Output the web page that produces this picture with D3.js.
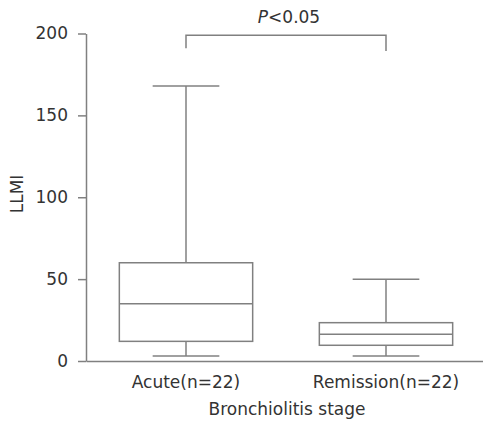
<!DOCTYPE html>
<html>
<head>
<meta charset="utf-8">
<script src="https://cdn.jsdelivr.net/npm/d3@7"></script>
<style>
  body { margin: 0; background: #fff; }
  text { font-family: "DejaVu Sans", sans-serif; fill: #333; }
</style>
</head>
<body>
<div id="chart"></div>
<script>
// box plot data
var categories = ["Acute(n=22)", "Remission(n=22)"];
var mins = [3, 3];
var q1s = [12, 9.6];
var medians = [35, 16.3];
var q3s = [60, 23.4];
var maxs = [168, 50];
var yTicks = [0, 50, 100, 150, 200];

var data = categories.map(function(c, i) {
    return { name: c, min: mins[i], q1: q1s[i], median: medians[i], q3: q3s[i], max: maxs[i] };
});

var W = 483, H = 428;
var lineColor = "#808080";

var svg = d3.select("#chart")
    .append("svg")
    .attr("width", W)
    .attr("height", H);

var x = d3.scaleBand()
    .domain(categories)
    .range([86, 486])
    .padding(0);

var y = d3.scaleLinear()
    .domain([0, 200])
    .range([361, 33.5]);

// Y axis
var yAxis = svg.append("g")
    .attr("transform", "translate(86,0)")
    .call(d3.axisLeft(y).tickValues(yTicks).tickSize(8).tickSizeOuter(0).tickPadding(10));
yAxis.selectAll("text").style("font-size", "17px").attr("font-family", null);
yAxis.selectAll("line, path").attr("stroke", lineColor).attr("stroke-width", 1.5);

// X axis
var xAxis = svg.append("g")
    .attr("transform", "translate(0,361)")
    .call(d3.axisBottom(x).tickSize(0).tickSizeOuter(0).tickPadding(15));
xAxis.selectAll("text").style("font-size", "17px").attr("font-family", null);
xAxis.selectAll("path").attr("stroke", lineColor).attr("stroke-width", 1.5);

// axis titles
svg.append("text")
    .attr("transform", "translate(23,194)rotate(-90)")
    .attr("text-anchor", "middle")
    .style("font-size", "17px")
    .text("LLMI");

svg.append("text")
    .attr("x", 287)
    .attr("y", 415)
    .attr("text-anchor", "middle")
    .style("font-size", "17px")
    .text("Bronchiolitis stage");

// boxes
var boxW = x.bandwidth() * 2 / 3;
var capW = boxW / 2;

var g = svg.selectAll("g.box")
    .data(data)
    .enter()
    .append("g")
    .attr("class", "box")
    .attr("transform", function(d) { return "translate(" + (x(d.name) + x.bandwidth() / 2) + ",0)"; })
    .attr("stroke", lineColor)
    .attr("stroke-width", 1.5)
    .attr("fill", "none");

// whiskers
g.append("line")
    .attr("x1", 0).attr("x2", 0)
    .attr("y1", function(d) { return y(d.max); })
    .attr("y2", function(d) { return y(d.q3); });
g.append("line")
    .attr("x1", 0).attr("x2", 0)
    .attr("y1", function(d) { return y(d.q1); })
    .attr("y2", function(d) { return y(d.min); });
g.append("line")
    .attr("x1", -capW / 2).attr("x2", capW / 2)
    .attr("y1", function(d) { return y(d.max); })
    .attr("y2", function(d) { return y(d.max); });
g.append("line")
    .attr("x1", -capW / 2).attr("x2", capW / 2)
    .attr("y1", function(d) { return y(d.min); })
    .attr("y2", function(d) { return y(d.min); });

// box + median
g.append("rect")
    .attr("x", -boxW / 2)
    .attr("width", boxW)
    .attr("y", function(d) { return y(d.q3); })
    .attr("height", function(d) { return y(d.q1) - y(d.q3); });
g.append("line")
    .attr("x1", -boxW / 2).attr("x2", boxW / 2)
    .attr("y1", function(d) { return y(d.median); })
    .attr("y2", function(d) { return y(d.median); });

// significance bracket
var xa = x(categories[0]) + x.bandwidth() / 2;
var xb = x(categories[1]) + x.bandwidth() / 2;
svg.append("path")
    .attr("d", "M" + xa + "," + y(191) + "V" + y(199) + "H" + xb + "V" + y(189.3))
    .attr("fill", "none")
    .attr("stroke", lineColor)
    .attr("stroke-width", 1.5);

svg.append("text")
    .attr("x", (xa + xb) / 2 + 3)
    .attr("y", 23)
    .attr("text-anchor", "middle")
    .style("font-size", "17px")
    .html('<tspan font-style="italic">P</tspan>&lt;0.05');
</script>
</body>
</html>
